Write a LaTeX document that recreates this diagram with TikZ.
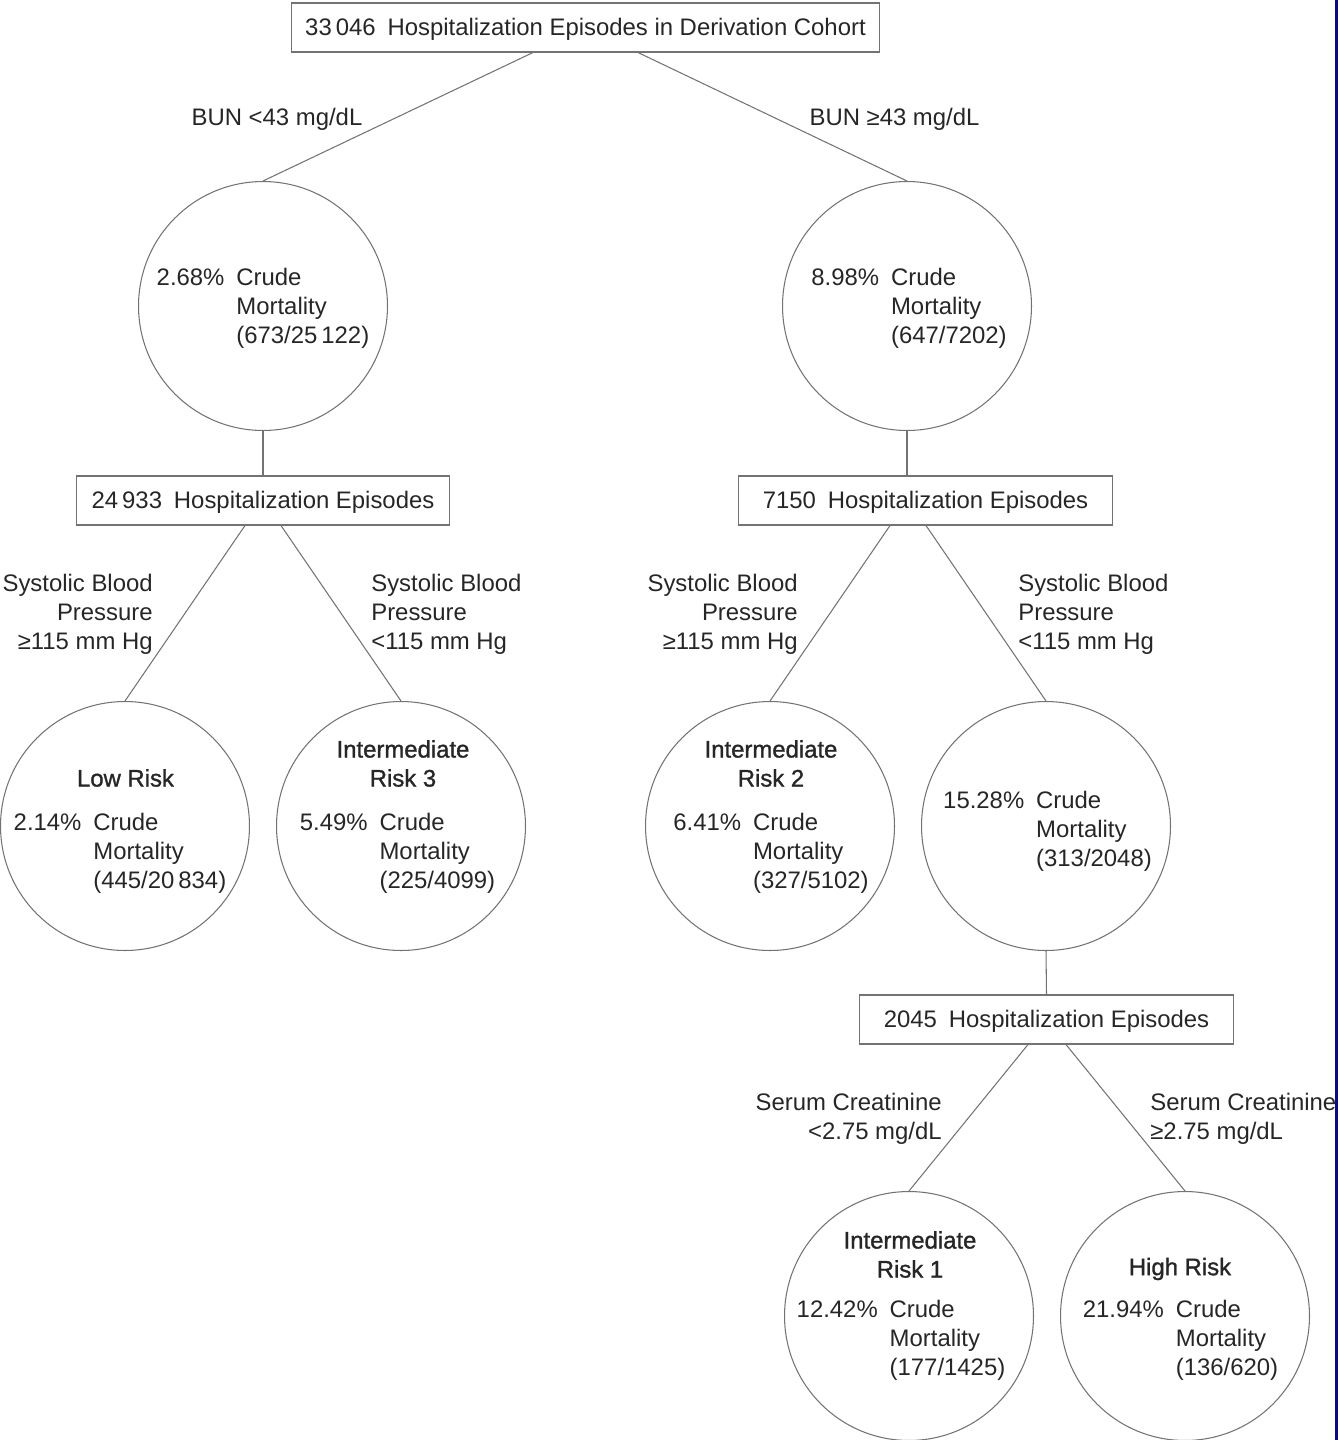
\documentclass[tikz,border=0pt]{standalone}
\usepackage{fontspec}
\setmainfont{Liberation Sans}
\newfontfamily\titlefont[FakeBold=1.2]{Liberation Sans}
\usepackage{xcolor}
\usepackage{tikz}
\usetikzlibrary{positioning}
\usetikzlibrary{calc}
\definecolor{edgebar}{RGB}{12,12,128}
\newcommand{\diagfont}{\fontsize{13.6}{16.5}\selectfont}

\begin{document}
\begin{tikzpicture}[x=0.02cm,y=-0.02cm,font=\diagfont,text=black!85]
\tikzstyle{episodes}=[draw=black!55,line width=0.6pt,minimum height=0.98cm,minimum width=7.48cm,inner sep=0pt,text height=12pt,text depth=2.4pt]
\tikzstyle{mortality}=[draw=black!55,line width=0.6pt,circle,minimum size=4.98cm,inner sep=0pt]
\tikzstyle{branch}=[draw=black!55,line width=0.6pt]
\tikzstyle{cutoff}=[inner sep=0pt,yshift=-0.05cm]
\tikzstyle{risk}=[inner sep=0pt,align=center,font=\titlefont\diagfont]
\useasboundingbox (0,0) rectangle (1338,1440);

% boxes
\node[episodes,minimum width=11.78cm] (cohort) at (585.5,27.5) {33\,046\enspace Hospitalization Episodes in Derivation Cohort};
\node[episodes] (eps1) at (263,500.5) {24\,933\enspace Hospitalization Episodes};
\node[episodes] (eps2) at (925.5,500.5) {7150\enspace Hospitalization Episodes};
\node[episodes] (eps3) at (1046.5,1019.5) {2045\enspace Hospitalization Episodes};

% circles
\node[mortality] (root1) at (263,306) {};
\node[mortality] (root2) at (907,306) {};
\node[mortality] (low) at (125,826) {};
\node[mortality] (ir3) at (401,826) {};
\node[mortality] (ir2) at (770,826) {};
\node[mortality] (mid) at (1046,826) {};
\node[mortality] (ir1) at (909,1316) {};
\node[mortality] (high) at (1185,1316) {};

\node[cutoff] (crude1) at (root1) {\begin{tabular}{@{}l@{\hspace{0.5em}}l@{}}2.68\% & Crude\\ & Mortality\\ & (673/25\,122)\end{tabular}};
\node[cutoff] (crude2) at ($(root2)+(2,0)$) {\begin{tabular}{@{}l@{\hspace{0.5em}}l@{}}8.98\% & Crude\\ & Mortality\\ & (647/7202)\end{tabular}};
\node[cutoff] (crude3) at ($(low)+(-5,25)$) {\begin{tabular}{@{}l@{\hspace{0.5em}}l@{}}2.14\% & Crude\\ & Mortality\\ & (445/20\,834)\end{tabular}};
\node[cutoff] (crude4) at ($(ir3)+(-3.5,25)$) {\begin{tabular}{@{}l@{\hspace{0.5em}}l@{}}5.49\% & Crude\\ & Mortality\\ & (225/4099)\end{tabular}};
\node[cutoff] (crude5) at ($(ir2)+(1,25)$) {\begin{tabular}{@{}l@{\hspace{0.5em}}l@{}}6.41\% & Crude\\ & Mortality\\ & (327/5102)\end{tabular}};
\node[cutoff] (crude6) at ($(mid)+(1.5,3)$) {\begin{tabular}{@{}l@{\hspace{0.5em}}l@{}}15.28\% & Crude\\ & Mortality\\ & (313/2048)\end{tabular}};
\node[cutoff] (crude7) at ($(ir1)+(-8,22)$) {\begin{tabular}{@{}l@{\hspace{0.5em}}l@{}}12.42\% & Crude\\ & Mortality\\ & (177/1425)\end{tabular}};
\node[cutoff] (crude8) at ($(high)+(-4.5,22)$) {\begin{tabular}{@{}l@{\hspace{0.5em}}l@{}}21.94\% & Crude\\ & Mortality\\ & (136/620)\end{tabular}};

\node[risk] (title3) at ($(low)+(0.5,-48)$) {Low Risk};
\node[risk] (title4) at ($(ir3)+(2,-62.5)$) {Intermediate\\Risk 3};
\node[risk] (title5) at ($(ir2)+(1,-62.5)$) {Intermediate\\Risk 2};
\node[risk] (title7) at ($(ir1)+(1,-61.5)$) {Intermediate\\Risk 1};
\node[risk] (title8) at ($(high)+(-5,-47)$) {High Risk};

% split rules
\node[cutoff] (bunlt) at (277,117) {BUN <43 mg/dL};
\node[cutoff] (bunge) at (894.5,117) {BUN ≥43 mg/dL};
\node[cutoff,anchor=east,align=right] (sbpge1) at (153,612) {Systolic Blood\\Pressure\\≥115 mm Hg};
\node[cutoff,anchor=west,align=left] (sbplt1) at (371,612) {Systolic Blood\\Pressure\\<115 mm Hg};
\node[cutoff,anchor=east,align=right] (sbpge2) at (798,612) {Systolic Blood\\Pressure\\≥115 mm Hg};
\node[cutoff,anchor=west,align=left] (sbplt2) at (1018,612) {Systolic Blood\\Pressure\\<115 mm Hg};
\node[cutoff,anchor=east,align=right] (crlt) at (942,1116.5) {Serum Creatinine\\<2.75 mg/dL};
\node[cutoff,anchor=west,align=left] (crge) at (1150,1116.5) {Serum Creatinine\\≥2.75 mg/dL};

% connectors
\draw[branch] ($(cohort.south)+(-52.5,0)$) -- (root1.north);
\draw[branch] ($(cohort.south)+(52.5,0)$) -- (root2.north);
\draw[branch] (root1.south) -- (eps1.north);
\draw[branch] (root2.south) -- (root2.south |- eps2.north);
\draw[branch] ($(eps1.south)+(-18,0)$) -- (low.north);
\draw[branch] ($(eps1.south)+(18,0)$) -- (ir3.north);
\draw[branch] ($(eps2.south)+(-35.5,0)$) -- (ir2.north);
\draw[branch] ($(eps2.south)+(0.5,0)$) -- (mid.north);
\draw[branch] (mid.south) -- (eps3.north);
\draw[branch] ($(eps3.south)+(-18.5,0)$) -- (ir1.north);
\draw[branch] ($(eps3.south)+(19.5,0)$) -- (high.north);

\fill[edgebar] (1335,0) rectangle (1338,1440);
\end{tikzpicture}
\end{document}
